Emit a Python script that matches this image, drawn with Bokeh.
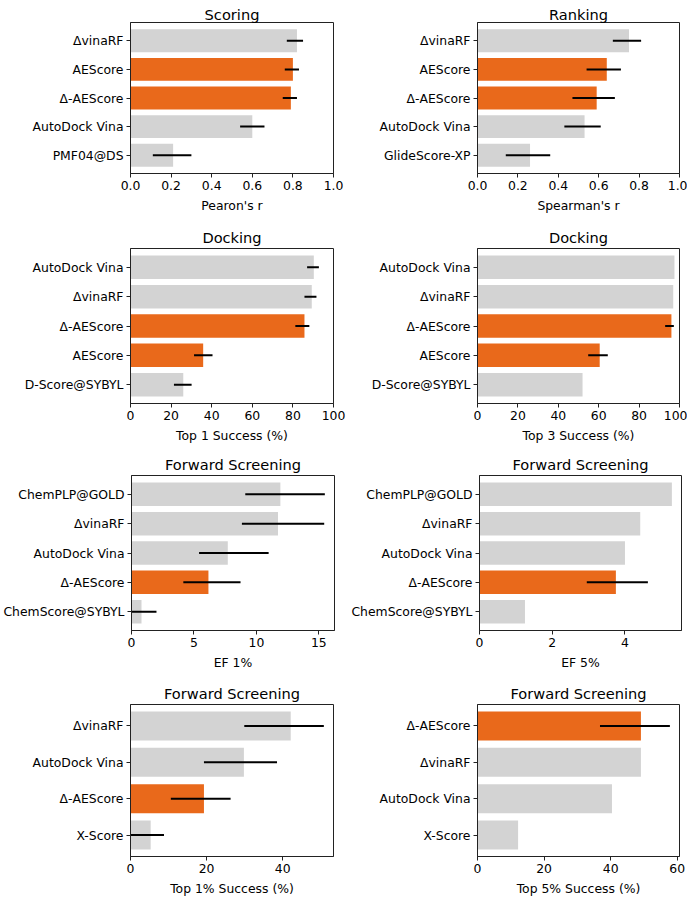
from bokeh.plotting import figure
from bokeh.layouts import column, row
from bokeh.models import Range1d, FixedTicker, PrintfTickFormatter, ColumnDataSource
from bokeh.embed import file_html
from bokeh.resources import INLINE

# ---------------- data ----------------
scoring_names = ["ΔvinaRF", "AEScore", "Δ-AEScore", "AutoDock Vina", "PMF04@DS"]
scoring_vals = [0.82, 0.80, 0.79, 0.60, 0.21]
scoring_lo = [0.77, 0.76, 0.75, 0.54, 0.11]
scoring_hi = [0.85, 0.83, 0.82, 0.66, 0.30]

ranking_names = ["ΔvinaRF", "AEScore", "Δ-AEScore", "AutoDock Vina", "GlideScore-XP"]
ranking_vals = [0.75, 0.64, 0.59, 0.53, 0.26]
ranking_lo = [0.67, 0.54, 0.47, 0.43, 0.14]
ranking_hi = [0.81, 0.71, 0.68, 0.61, 0.36]

dock_names = ["AutoDock Vina", "ΔvinaRF", "Δ-AEScore", "AEScore", "D-Score@SYBYL"]
dock1_vals = [90.3, 89.3, 85.7, 35.8, 26.0]
dock1_lo = [87.0, 85.7, 81.2, 31.3, 21.4]
dock1_hi = [92.8, 91.6, 88.1, 40.4, 30.1]
dock3_vals = [97.5, 96.9, 96.0, 60.5, 52.0]
dock3_lo = [None, None, 92.9, 54.8, None]
dock3_hi = [None, None, 97.2, 64.5, None]

ef_names = ["ChemPLP@GOLD", "ΔvinaRF", "AutoDock Vina", "Δ-AEScore", "ChemScore@SYBYL"]
ef1_vals = [11.92, 11.73, 7.71, 6.16, 0.80]
ef1_lo = [9.11, 8.84, 5.41, 4.15, 0.0]
ef1_hi = [15.48, 15.43, 10.98, 8.73, 2.0]
ef5_vals = [5.29, 4.42, 4.00, 3.75, 1.25]
ef5_lo = [None, None, None, 2.95, None]
ef5_hi = [None, None, None, 4.63, None]

top1_names = ["ΔvinaRF", "AutoDock Vina", "Δ-AEScore", "X-Score"]
top1_vals = [42.1, 29.8, 19.3, 5.3]
top1_lo = [29.9, 19.3, 10.6, 0.0]
top1_hi = [50.8, 38.5, 26.3, 8.8]

top5_names = ["Δ-AEScore", "ΔvinaRF", "AutoDock Vina", "X-Score"]
top5_vals = [49.1, 49.1, 40.4, 12.2]
top5_lo = [36.8, None, None, None]
top5_hi = [57.8, None, None, None]

highlight = {"AEScore", "Δ-AEScore"}

ticks_r = [0.0, 0.2, 0.4, 0.6, 0.8, 1.0]
ticks_pct = [0, 20, 40, 60, 80, 100]
ticks_ef1 = [0, 5, 10, 15]
ticks_ef5 = [0, 2, 4]
ticks_top1 = [0, 20, 40]
ticks_top5 = [0, 20, 40, 60]

GRAY = "#d3d3d3"
ORANGE = "#e9691b"
FONT = "DejaVu Sans"
TICK_FS = "12.4px"

LEFT_B = 130


def panel(title, names, vals, lo, hi, xlabel, ticks, fmt, xmax, fh, top_b, bot_b,
          title_standoff, side):
    n = len(names)
    ypos = [n - 1 - i for i in range(n)]
    colors = [ORANGE if nm in highlight else GRAY for nm in names]
    span = n - 0.2
    yr = Range1d(-0.4 - 0.05 * span, n - 1 + 0.4 + 0.05 * span)
    if xmax is None:
        m = max([v for v in vals] + [h for h in hi if h is not None])
        xmax = 1.05 * m
    p = figure(frame_width=(203 if side == "L" else 202), frame_height=fh,
               x_range=Range1d(0, xmax), y_range=yr,
               output_backend="svg", toolbar_location=None,
               min_border_left=LEFT_B, min_border_right=(14 if side == "L" else 8),
               min_border_top=top_b, min_border_bottom=bot_b)
    src = ColumnDataSource(dict(y=ypos, v=vals, c=colors))
    p.hbar(y="y", right="v", left=0, height=0.8, fill_color="c", line_color=None, source=src)
    ey = [ypos[i] for i in range(n) if lo[i] is not None]
    e0 = [lo[i] for i in range(n) if lo[i] is not None]
    e1 = [hi[i] for i in range(n) if lo[i] is not None]
    p.segment(x0=e0, y0=ey, x1=e1, y1=ey, line_color="black", line_width=2)

    p.title.text = title
    p.title.align = "center"
    p.title.text_font = FONT
    p.title.text_font_size = "14.6px"
    p.title.text_font_style = "normal"
    p.title.text_color = "black"
    p.title.standoff = title_standoff

    p.xgrid.visible = False
    p.ygrid.visible = False
    p.outline_line_color = "#222222"
    p.outline_line_width = 1
    p.outline_line_alpha = 1

    xa = p.xaxis[0]
    xa.ticker = FixedTicker(ticks=ticks)
    xa.formatter = PrintfTickFormatter(format=fmt)
    xa.axis_label = xlabel
    xa.axis_label_text_font = FONT
    xa.axis_label_text_font_size = TICK_FS
    xa.axis_label_text_font_style = "normal"
    xa.axis_label_text_color = "black"
    xa.axis_label_standoff = 5
    ya = p.yaxis[0]
    ya.ticker = FixedTicker(ticks=ypos)
    ya.major_label_overrides = {ypos[i]: names[i] for i in range(n)}
    for ax in (xa, ya):
        ax.axis_line_color = "#222222"
        ax.major_tick_line_color = "#222222"
        ax.major_tick_in = 0
        ax.major_tick_out = 4
        ax.minor_tick_line_color = None
        ax.major_label_text_font = FONT
        ax.major_label_text_font_size = TICK_FS
        ax.major_label_text_color = "black"
        ax.major_label_standoff = 3
    return p


p1 = panel("Scoring", scoring_names, scoring_vals, scoring_lo, scoring_hi, "Pearon's r",
           ticks_r, "%.1f", 1.0, 151, 22, 46, 0, "L")
p2 = panel("Ranking", ranking_names, ranking_vals, ranking_lo, ranking_hi, "Spearman's r",
           ticks_r, "%.1f", 1.0, 151, 22, 46, 0, "R")
p3 = panel("Docking", dock_names, dock1_vals, dock1_lo, dock1_hi, "Top 1 Success (%)",
           ticks_pct, "%d", 100, 155, 29, 46, 5, "L")
p4 = panel("Docking", dock_names, dock3_vals, dock3_lo, dock3_hi, "Top 3 Success (%)",
           ticks_pct, "%d", 100, 155, 29, 46, 5, "R")
p5 = panel("Forward Screening", ef_names, ef1_vals, ef1_lo, ef1_hi, "EF 1%",
           ticks_ef1, "%d", None, 155, 26, 46, 5, "L")
p6 = panel("Forward Screening", ef_names, ef5_vals, ef5_lo, ef5_hi, "EF 5%",
           ticks_ef5, "%d", None, 155, 26, 46, 5, "R")
p7 = panel("Forward Screening", top1_names, top1_vals, top1_lo, top1_hi, "Top 1% Success (%)",
           ticks_top1, "%d", None, 152, 28, 41, 5, "L")
p8 = panel("Forward Screening", top5_names, top5_vals, top5_lo, top5_hi, "Top 5% Success (%)",
           ticks_top5, "%d", None, 152, 28, 41, 5, "R")

layout = column(row(p1, p2), row(p3, p4), row(p5, p6), row(p7, p8))
open("out.html", "w").write(file_html(layout, INLINE))
